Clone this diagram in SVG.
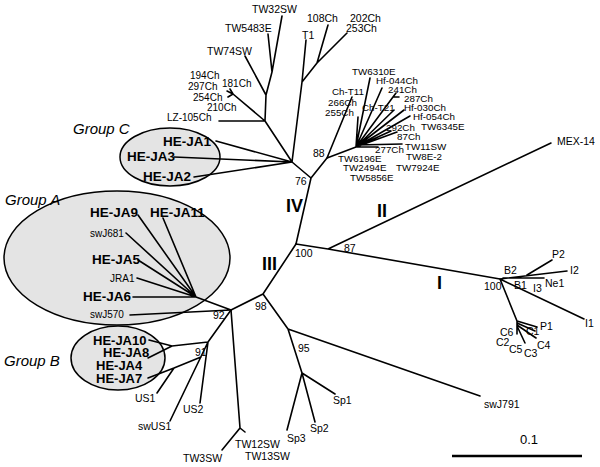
<svg xmlns="http://www.w3.org/2000/svg" width="600" height="467" viewBox="0 0 600 467">
<style>
.e{fill:#e4e4e4;stroke:#000;stroke-width:1.5}
.b{fill:none;stroke:#000;stroke-width:1.6;stroke-linecap:round;stroke-linejoin:round}
.sb{fill:none;stroke:#000;stroke-width:2.6}
text{font-family:"Liberation Sans",Arial,Helvetica,sans-serif;fill:#000}
.t{font-size:10.5px}
.s{font-size:10px}
.c{font-size:9.8px}
.h{font-size:13.5px;font-weight:bold}
.hb{font-size:13px;font-weight:bold}
.g{font-size:15px;font-style:italic}
.r{font-size:18px;font-weight:bold}
.sc{font-size:13px}
</style>
<rect width="600" height="467" fill="#fff"/>
<g id="groups">
<ellipse id="groupC-area" class="e" cx="170" cy="157" rx="50" ry="29"/>
<ellipse id="groupA-area" class="e" cx="117" cy="258" rx="113" ry="67"/>
<ellipse id="groupB-area" class="e" cx="118" cy="358" rx="47" ry="32"/>
</g>
<g id="connectors" class="b">
<path d="M296,244L311,178M311,178L327,158M311,178L292,162M292,162L265,121M265,121L219,121M265,121L233,94M233,94L227,91M233,94L228,97M233,94L230,89M265,121L266,95M266,95L245,56M266,95L272,72M272,72L282,16M272,72L268,34M292,162L302,82M302,82L306,40M302,82L317,63M317,63L328,25M317,63L347,33"/>
<path d="M292,162L216,141M292,162L174,157M292,162L194,177"/>
<path d="M327,158L352,97M327,158L356,147M356,147L370,78M356,147L382,88M356,147L393,97M393,97L396,93M393,97L399,97M356,147L358,117M356,147L394,110M356,147L404,110M356,147L410,116M356,147L391,131M356,147L397,132M357,145L402,144M357,147L378,147"/>
<path d="M296,244L328,249M328,249L551,143M328,249L500,279"/>
<path d="M500,279L567,271M527,275L552,260M503,278L544,278M500,279L584,319M500,279L517,321M517,321L537,327M517,323L535,331M517,325L536,338M517,326L525,343M517,321L517,334"/>
<path d="M296,244L263,294M263,294L231,310M263,294L288,329M288,329L480,396M288,329L302,373M302,373L335,394M302,373L315,422M302,373L287,430"/>
<path d="M231,310L196,297M196,297L138,215M196,297L163,218M196,297L126,233M196,297L138,260M196,297L137,278M196,297L133,297M231,310L130,315"/>
<path d="M231,310L240,428M240,428L222,450M240,428L236,433M240,428L245,432"/>
<path d="M231,310L208,342M208,342L172,346M172,346L149,340M172,346L148,358M208,342L170,421M201,357L174,368M174,368L148,378M174,368L157,393M208,342L200,403"/>
</g>
<g id="scalebar"><path class="sb" d="M452,456L582,456"/><text class="sc" x="520" y="444">0.1</text></g>
<g id="top-leaves" class="t">
<g id="TW32SW"><text x="252" y="13">TW32SW</text></g>
<g id="TW5483E"><text x="225" y="32">TW5483E</text></g>
<g id="TW74SW"><text x="207" y="55">TW74SW</text></g>
<g id="T1"><text x="302" y="39">T1</text></g>
<g id="n108Ch"><text x="307" y="22">108Ch</text></g>
<g id="n202Ch"><text x="350" y="22">202Ch</text></g>
<g id="n253Ch"><text x="346" y="32">253Ch</text></g>
<g id="n194Ch"><text class="s" x="190" y="79">194Ch</text></g>
<g id="n297Ch"><text class="s" x="188" y="90">297Ch</text></g>
<g id="n181Ch"><text class="s" x="222" y="87">181Ch</text></g>
<g id="n254Ch"><text class="s" x="193" y="101">254Ch</text></g>
<g id="n210Ch"><text class="s" x="207" y="111">210Ch</text></g>
<g id="LZ-105Ch"><text class="s" x="167" y="121">LZ-105Ch</text></g>
</g>
<g id="cluster-leaves" class="c">
<g id="TW6310E"><text x="352" y="75">TW6310E</text></g>
<g id="Hf-044Ch"><text x="376" y="84">Hf-044Ch</text></g>
<g id="n241Ch"><text x="388" y="93">241Ch</text></g>
<g id="n287Ch"><text x="404" y="102">287Ch</text></g>
<g id="Ch-T11"><text x="332" y="95">Ch-T11</text></g>
<g id="n266Ch"><text x="328" y="106">266Ch</text></g>
<g id="n255Ch"><text x="325" y="116">255Ch</text></g>
<g id="Ch-T21"><text x="362" y="111">Ch-T21</text></g>
<g id="Hf-030Ch"><text x="404" y="111">Hf-030Ch</text></g>
<g id="Hf-054Ch"><text x="413" y="120">Hf-054Ch</text></g>
<g id="n292Ch"><text x="386" y="131">292Ch</text></g>
<g id="TW6345E"><text x="421" y="130">TW6345E</text></g>
<g id="n87Ch"><text x="397" y="140">87Ch</text></g>
<g id="TW11SW"><text x="405" y="150">TW11SW</text></g>
<g id="n277Ch"><text x="375" y="153">277Ch</text></g>
<g id="TW8E-2"><text x="406" y="160">TW8E-2</text></g>
<g id="TW6196E"><text x="338" y="162">TW6196E</text></g>
<g id="TW2494E"><text x="343" y="171">TW2494E</text></g>
<g id="TW7924E"><text x="396" y="171">TW7924E</text></g>
<g id="TW5856E"><text x="350" y="181">TW5856E</text></g>
</g>
<g id="MEX-14" class="t"><text x="557" y="145">MEX-14</text></g>
<g id="groupC">
<text class="g" x="73" y="134">Group C</text>
<g id="HE-JA1"><text class="h" x="163" y="146">HE-JA1</text></g>
<g id="HE-JA3"><text class="h" x="127" y="161">HE-JA3</text></g>
<g id="HE-JA2"><text class="h" x="143" y="181">HE-JA2</text></g>
</g>
<g id="groupA">
<text class="g" x="5" y="205">Group A</text>
<g id="HE-JA9"><text class="h" x="90" y="217">HE-JA9</text></g>
<g id="HE-JA11"><text class="h" x="150" y="217">HE-JA11</text></g>
<g id="swJ681"><text class="s" x="90" y="237">swJ681</text></g>
<g id="HE-JA5"><text class="h" x="92" y="264">HE-JA5</text></g>
<g id="JRA1"><text class="s" x="110" y="282">JRA1</text></g>
<g id="HE-JA6"><text class="h" x="83" y="301">HE-JA6</text></g>
<g id="swJ570"><text class="s" x="90" y="318">swJ570</text></g>
</g>
<g id="groupB">
<text class="g" x="4" y="366">Group B</text>
<g id="HE-JA10"><text class="hb" x="93" y="345">HE-JA10</text></g>
<g id="HE-JA8"><text class="hb" x="103" y="357">HE-JA8</text></g>
<g id="HE-JA4"><text class="hb" x="96" y="370">HE-JA4</text></g>
<g id="HE-JA7"><text class="hb" x="96" y="383">HE-JA7</text></g>
</g>
<g id="bottom-leaves" class="t">
<g id="US1"><text x="135" y="402">US1</text></g>
<g id="swUS1"><text x="138" y="430">swUS1</text></g>
<g id="US2"><text x="183" y="413">US2</text></g>
<g id="TW3SW"><text x="183" y="462">TW3SW</text></g>
<g id="TW12SW"><text x="235" y="448">TW12SW</text></g>
<g id="TW13SW"><text x="245" y="460">TW13SW</text></g>
<g id="Sp1"><text x="333" y="404">Sp1</text></g>
<g id="Sp2"><text x="310" y="432">Sp2</text></g>
<g id="Sp3"><text x="287" y="442">Sp3</text></g>
<g id="swJ791"><text x="484" y="408">swJ791</text></g>
</g>
<g id="genotype1" class="t">
<g id="B2"><text x="504" y="274">B2</text></g>
<g id="B1"><text x="514" y="289">B1</text></g>
<g id="I3"><text x="533" y="292">I3</text></g>
<g id="Ne1"><text x="545" y="287">Ne1</text></g>
<g id="P2"><text x="552" y="258">P2</text></g>
<g id="I2"><text x="570" y="274">I2</text></g>
<g id="I1"><text x="585" y="327">I1</text></g>
<g id="P1"><text x="540" y="330">P1</text></g>
<g id="C6"><text x="500" y="336">C6</text></g>
<g id="C1"><text x="526" y="335">C1</text></g>
<g id="C2"><text x="496" y="346">C2</text></g>
<g id="C5"><text x="509" y="353">C5</text></g>
<g id="C4"><text x="537" y="349">C4</text></g>
<g id="C3"><text x="524" y="357">C3</text></g>
</g>
<g id="bootstrap" class="t">
<text x="295" y="185">76</text>
<text x="313" y="157">88</text>
<text x="295" y="257">100</text>
<text x="344" y="252">87</text>
<text x="255" y="310">98</text>
<text x="213" y="319">92</text>
<text x="195" y="356">91</text>
<text x="298" y="352">95</text>
<text x="484" y="290">100</text>
</g>
<g id="genotypes" class="r">
<text x="286" y="212">IV</text>
<text x="377" y="217">II</text>
<text x="262" y="270">III</text>
<text x="437" y="289">I</text>
</g>
</svg>
